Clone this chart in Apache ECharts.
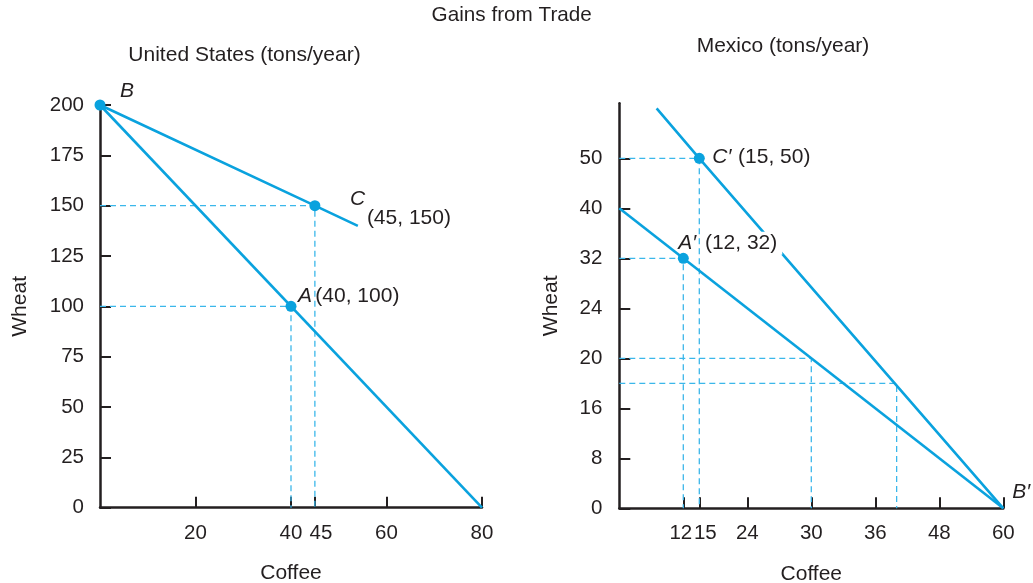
<!DOCTYPE html>
<html>
<head>
<meta charset="utf-8">
<script src="https://cdn.jsdelivr.net/npm/echarts@6/dist/echarts.min.js"></script>
<style>html,body{margin:0;padding:0;background:#fff}#c{width:1033px;height:583px}</style>
</head>
<body>
<div id="c"></div>
<script>
// ---------- United States (tons/year) ----------
const usPPF = [[0, 200], [80, 0]];                       // production possibilities
const usTradeLine = [[0, 200], [45, 150], [54, 140]];    // trading line through C
const usPointNames = ['B', 'C', 'A'];
const usPoints = [[0, 200], [45, 150], [40, 100]];
const usShowCoords = [false, true, true];
const usGuidePoints = [[45, 150], [40, 100]];            // dashed guides to axes
const usCoffeeTicks = [20, 40, 45, 60, 80];
const usWheatTicks = [0, 25, 50, 75, 100, 125, 150, 175, 200];

// ---------- Mexico (tons/year) ----------
const mxPPF = [[0, 40], [60, 0]];
const mxTradeLine = [[7, 60], [15, 50], [60, 0]];
const mxPointNames = ['C′', 'A′', 'B′'];
const mxPoints = [[15, 50], [12, 32], [60, 0]];
const mxShowCoords = [true, true, false];
const mxGuidePoints = [[15, 50], [12, 32], [30, 20], [40, 18]];
// the Mexico axes are drawn with evenly spaced breakpoints (not to linear scale)
const mxCoffeeScale = [0, 12, 24, 30, 36, 48, 60];
const mxWheatScale = [0, 8, 16, 20, 24, 32, 40, 50, 60];
const mxCoffeeTicks = [12, 15, 24, 30, 36, 48, 60];
const mxCoffeeTicksExtra = [15];                         // crowded label drawn on its own axis
const mxWheatTicks = [0, 8, 16, 20, 24, 32, 40, 50];
const mxWheatTop = 61;

// ---------- helpers ----------
const F = '"Liberation Sans", Arial, Helvetica, sans-serif';
const INK = '#231f20';
const BLUE = '#0aa2de';
const DASH = '#3bb7ea';

function toPos(v, s) {            // piecewise scale: breakpoints evenly spaced
  let i = 0;
  while (i < s.length - 2 && v > s[i + 1]) i++;
  return i + (v - s[i]) / (s[i + 1] - s[i]);
}
const mx = p => [toPos(p[0], mxCoffeeScale), toPos(p[1], mxWheatScale)];
function labelFor(val, ticks, scale) {
  for (const t of ticks) if (Math.abs(toPos(t, scale) - val) < 1e-6) return String(t);
  return '';
}

function axisBase(extra) {
  return Object.assign({
    type: 'value',
    axisLine: { show: true, onZero: false, lineStyle: { color: INK, width: 2.5 } },
    splitLine: { show: false },
    nameTextStyle: { color: INK, fontSize: 21, fontFamily: F },
  }, extra);
}
function ticks(vals) { return { show: true, inside: true, length: 11, customValues: vals, lineStyle: { color: INK, width: 2 } }; }
const tickRich = {
  l: { color: INK, fontSize: 20.5, fontFamily: F, padding: [0, 5, 0, 0] },   // nudged left
  r: { color: INK, fontSize: 20.5, fontFamily: F, padding: [0, 0, 0, 12] }   // nudged right
};
function labels(vals, margin, fmt) {
  const o = { show: true, customValues: vals, margin: margin, color: INK, fontSize: 20.5, fontFamily: F,
              hideOverlap: false, interval: 0, rich: tickRich };
  if (fmt) o.formatter = fmt;
  return o;
}

// label placement (style only)
const labelStyle = {
  'B':  { offset: [20, -14] },
  'C':  { offset: [35, 3] },
  'A':  { offset: [7, -10] },
  'C′': { offset: [13, -1] },
  'A′': { offset: [-5, -15] },
  'B′': { offset: [9, -16] }
};
const rich = {
  i: { fontStyle: 'italic', fontSize: 21, fontFamily: F, color: INK, lineHeight: 20 },
  n: { fontSize: 21, fontFamily: F, color: INK, lineHeight: 20 },
  n2: { fontSize: 21, fontFamily: F, color: INK, lineHeight: 20, padding: [0, 0, 0, 17] },
  w: { fontSize: 21, fontFamily: F, color: INK, lineHeight: 20, backgroundColor: '#fff', padding: [1, 5, 1, 2] }
};
function pointLabel(name, p, show) {
  const coord = '(' + p[0] + ', ' + p[1] + ')';
  let txt = '{i|' + name + '}';
  if (show) {
    if (name === 'C') txt += '\n{n2|' + coord + '}';
    else if (name === 'A′') txt += '  {w|' + coord + '}';
    else if (name === 'C′') txt += '  {n|' + coord + '}';
    else txt += ' {n|' + coord + '}';
  }
  return Object.assign({ show: true, position: 'inside', align: 'left', verticalAlign: 'middle',
    color: INK, textBorderWidth: 0, formatter: txt, rich: rich }, labelStyle[name]);
}

const series = [];
function line(data, xi, dashed) {
  series.push({
    type: 'line', xAxisIndex: xi, yAxisIndex: xi, data: data, showSymbol: false, silent: true,
    z: dashed ? 1 : 3,
    lineStyle: dashed ? { color: DASH, width: 1.3, type: [6, 4] } : { color: BLUE, width: 2.6 }
  });
}
// US
usGuidePoints.forEach(p => line([[0, p[1]], p, [p[0], 0]], 0, true));
line(usPPF, 0, false);
line(usTradeLine, 0, false);
series.push({
  type: 'scatter', xAxisIndex: 0, yAxisIndex: 0, z: 5, symbolSize: 11, itemStyle: { color: BLUE, opacity: 1 },
  data: usPoints.map((p, i) => ({ value: p, name: usPointNames[i], label: pointLabel(usPointNames[i], p, usShowCoords[i]) }))
});
// Mexico
mxGuidePoints.forEach(p => line([[0, p[1]], p, [p[0], 0]].map(mx), 1, true));
line(mxPPF.map(mx), 1, false);
line(mxTradeLine.map(mx), 1, false);
series.push({
  type: 'scatter', xAxisIndex: 1, yAxisIndex: 1, z: 5, symbolSize: 11, itemStyle: { color: BLUE, opacity: 1 },
  data: mxPoints.map((p, i) => ({
    value: mx(p), name: mxPointNames[i],
    symbolSize: mxPointNames[i] === 'B′' ? 0 : 11,
    label: pointLabel(mxPointNames[i], p, mxShowCoords[i])
  }))
});

const mxMainLabels = mxCoffeeTicks.filter(v => mxCoffeeTicksExtra.indexOf(v) < 0);
const usFmt = v => (v === 45 ? '{r|45}' : String(v));
const mxFmt = v => { const s = labelFor(v, mxCoffeeTicks, mxCoffeeScale); return s === '12' ? '{l|12}' : (s === '15' ? '{r|15}' : s); };

const chart = echarts.init(document.getElementById('c'), null, { renderer: 'canvas' });
chart.setOption({
  animation: false,
  backgroundColor: '#fff',
  grid: [
    { left: 100, top: 105, width: 382, height: 402.7, outerBoundsMode: 'none', containLabel: false },
    { left: 619.3, top: 103.3, width: 384, height: 405, outerBoundsMode: 'none', containLabel: false }
  ],
  xAxis: [
    axisBase({ gridIndex: 0, position: 'bottom', min: 0, max: 80, name: 'Coffee', nameLocation: 'middle', nameGap: 55,
      axisTick: ticks(usCoffeeTicks), axisLabel: labels(usCoffeeTicks, 15, usFmt) }),
    axisBase({ gridIndex: 1, position: 'bottom', min: 0, max: toPos(60, mxCoffeeScale), name: 'Coffee', nameLocation: 'middle', nameGap: 55,
      axisTick: ticks(mxCoffeeTicks.map(v => toPos(v, mxCoffeeScale))),
      axisLabel: labels(mxMainLabels.map(v => toPos(v, mxCoffeeScale)), 15, mxFmt) }),
    axisBase({ gridIndex: 1, position: 'bottom', offset: 0, min: 0, max: toPos(60, mxCoffeeScale),
      axisLine: { show: false }, axisTick: { show: false },
      axisLabel: labels(mxCoffeeTicksExtra.map(v => toPos(v, mxCoffeeScale)), 15, mxFmt) })
  ],
  yAxis: [
    axisBase({ gridIndex: 0, min: 0, max: 200, name: 'Wheat', nameLocation: 'middle', nameGap: 69,
      axisTick: ticks(usWheatTicks), axisLabel: labels(usWheatTicks, 16) }),
    axisBase({ gridIndex: 1, min: 0, max: toPos(mxWheatTop, mxWheatScale), name: 'Wheat', nameLocation: 'middle', nameGap: 58,
      axisTick: ticks(mxWheatTicks.map(v => toPos(v, mxWheatScale))),
      axisLabel: labels(mxWheatTicks.map(v => toPos(v, mxWheatScale)), 17, v => labelFor(v, mxWheatTicks, mxWheatScale)) })
  ],
  graphic: [
    { type: 'text', x: 511.7, y: 15.5, style: { text: 'Gains from Trade', fill: INK, font: '20.7px ' + F, textAlign: 'center', textVerticalAlign: 'middle' } },
    { type: 'text', x: 244.5, y: 55, style: { text: 'United States (tons/year)', fill: INK, font: '21px ' + F, textAlign: 'center', textVerticalAlign: 'middle' } },
    { type: 'text', x: 783, y: 46, style: { text: 'Mexico (tons/year)', fill: INK, font: '21px ' + F, textAlign: 'center', textVerticalAlign: 'middle' } }
  ],
  series: series
});
</script>
</body>
</html>
